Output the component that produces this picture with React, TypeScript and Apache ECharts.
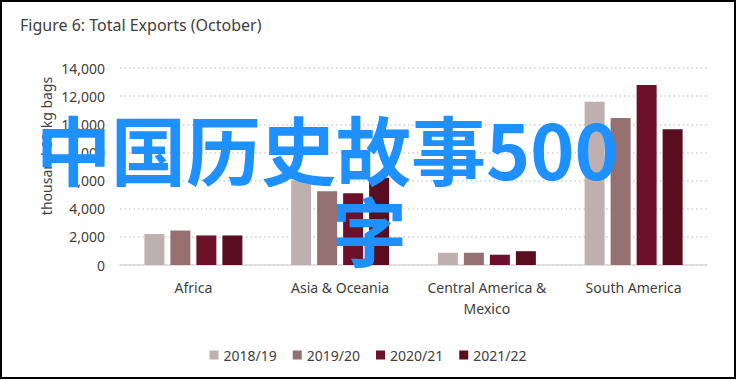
import React, { useEffect, useRef } from "react";
import * as echarts from "echarts";

const categories = ["Africa", "Asia & Oceania", "Central America &\nMexico", "South America"];
const seriesNames = ["2018/19", "2019/20", "2020/21", "2021/22"];
const s2018 = [2200, 6000, 870, 11600];
const s2019 = [2450, 5250, 870, 10450];
const s2020 = [2100, 5100, 730, 12800];
const s2021 = [2100, 6200, 980, 9650];
const colors = ["#bfb0b0", "#957071", "#6c1129", "#5a0d1f"];
const yTitle = "thousand 60-kg bags";
const overlayLine1 = "中国历史故事500";
const overlayLine2 = "字";

export default function App() {
  const ref = useRef<HTMLDivElement>(null);
  useEffect(() => {
    if (!ref.current) return;
    const chart = echarts.init(ref.current, null, { renderer: "svg" });
    const data = [s2018, s2019, s2020, s2021];
    const font = "'Noto Sans', sans-serif";
    const cjk = "'Noto Sans CJK SC', sans-serif";
    chart.setOption({
      animation: false,
      backgroundColor: "#ffffff",
      textStyle: { fontFamily: font },
      title: {
        text: "Figure 6: Total Exports (October)",
        left: 20,
        top: 17,
        padding: 0,
        textStyle: { fontFamily: font, fontSize: 16, fontWeight: "normal", color: "#404040" },
      },
      grid: { left: 120, right: 29, top: 68, bottom: 115 },
      legend: {
        data: seriesNames,
        left: "center",
        top: 343,
        icon: "rect",
        itemWidth: 9,
        itemHeight: 9,
        itemGap: 16,
        textStyle: { fontFamily: font, fontSize: 14, color: "#404040" },
      },
      xAxis: {
        type: "category",
        data: categories,
        axisLine: { lineStyle: { color: "#d9d9d9", width: 1.5 } },
        axisTick: { show: false },
        axisLabel: { fontFamily: font, fontSize: 14, color: "#404040", margin: 12, lineHeight: 21, interval: 0 },
      },
      yAxis: {
        type: "value",
        min: 0,
        max: 14000,
        interval: 2000,
        axisLine: { show: false },
        axisTick: { show: false },
        axisLabel: {
          fontFamily: font,
          fontSize: 14,
          color: "#404040",
          margin: 15,
          formatter: (v: number) => v.toLocaleString("en-US"),
        },
        splitLine: { lineStyle: { color: "#d0d0d0", type: [1.5, 3], width: 1.5 } },
      },
      series: seriesNames.map((name, i) => ({
        name,
        type: "bar",
        data: data[i],
        barWidth: 20,
        barGap: "30%",
        itemStyle: { color: colors[i] },
      })),
      graphic: [
        {
          type: "text",
          x: 46,
          y: 146,
          rotation: Math.PI / 2,
          style: {
            text: yTitle,
            fontFamily: font,
            fontSize: 14,
            fill: "#404040",
            align: "center",
            verticalAlign: "middle",
          },
        },
        {
          type: "text",
          left: 36,
          top: 110,
          z: 100,
          style: {
            text: overlayLine1,
            fontFamily: cjk,
            fontSize: 75,
            fontWeight: "bold",
            fill: "#1e90ff",
          },
        },
        {
          type: "text",
          left: 332,
          top: 191,
          z: 100,
          style: {
            text: overlayLine2,
            fontFamily: cjk,
            fontSize: 75,
            fontWeight: "bold",
            fill: "#1e90ff",
          },
        },
        {
          type: "rect",
          z: 101,
          shape: { x: 1, y: 1, width: 734, height: 377 },
          style: { fill: "none", stroke: "#000000", lineWidth: 2 },
        },
      ],
    });
    return () => chart.dispose();
  }, []);
  return (
    <div
      ref={ref}
      style={{ position: "fixed", left: 0, top: 0, width: 736, height: 380 }}
    />
  );
}
